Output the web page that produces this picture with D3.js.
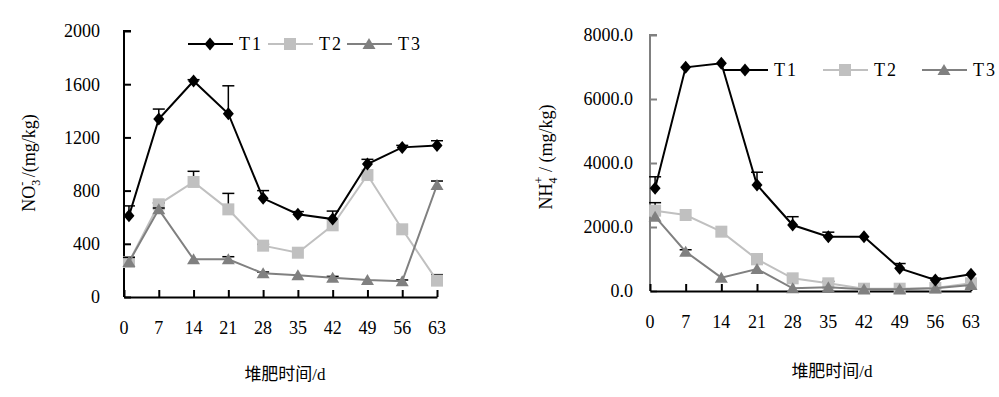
<!DOCTYPE html>
<html>
<head>
<meta charset="utf-8">
<script src="https://cdn.jsdelivr.net/npm/d3@7"></script>
<style>
  body { margin: 0; background: #fff; }
</style>
</head>
<body>
<div id="chart"></div>
<script>
// sampling days (first sample on day 1)
const days = [1, 7, 14, 21, 28, 35, 42, 49, 56, 63];
const dayTicks = [0, 7, 14, 21, 28, 35, 42, 49, 56, 63];
const seriesNames = ['T1', 'T2', 'T3'];

// NO3- (mg/kg)
const no3T1 = [610, 1338, 1624, 1378, 742, 622, 586, 1000, 1125, 1140];
const no3T2 = [263, 697, 865, 659, 386, 333, 539, 917, 509, 123];
const no3T3 = [263, 659, 283, 283, 178, 163, 145, 128, 118, 842];
const no3ErrT1 = [75, 75, 10, 210, 58, 20, 60, 35, 15, 35];
const no3ErrT2 = [0, 10, 80, 120, 10, 0, 0, 0, 0, 45];
const no3ErrT3 = [35, 10, 0, 20, 10, 0, 10, 0, 10, 30];
const no3Ticks = [0, 400, 800, 1200, 1600, 2000];

// NH4+ (mg/kg)
const nh4T1 = [3209, 6990, 7115, 3312, 2062, 1698, 1698, 708, 344, 521];
const nh4T2 = [2510, 2375, 1854, 990, 396, 240, 72, 72, 94, 240];
const nh4T3 = [2323, 1229, 417, 688, 83, 115, 52, 52, 83, 187];
const nh4ErrT1 = [360, 0, 0, 400, 260, 140, 0, 150, 60, 0];
const nh4ErrT2 = [250, 0, 0, 150, 0, 60, 0, 0, 0, 0];
const nh4ErrT3 = [0, 60, 0, 0, 0, 0, 0, 0, 0, 0];
const nh4Ticks = [0, 2000, 4000, 6000, 8000];

const colors = { T1: '#000000', T2: '#c0c0c0', T3: '#808080' };
const serif = '"Liberation Serif", "DejaVu Serif", serif';

const svg = d3.select('#chart').append('svg')
  .attr('width', 999)
  .attr('height', 397)
  .attr('font-family', serif);

function markerPath(name) {
  if (name === 'T1') return 'M0,-6.5L5.5,0L0,6.5L-5.5,0Z';
  if (name === 'T2') return 'M-6,-6L6,-6L6,6L-6,6Z';
  return 'M0,-6L6.5,5L-6.5,5Z';
}

function drawPanel(cfg) {
  const x = d3.scaleLinear().domain([0, 63]).range([cfg.x0, cfg.x1]);
  const y = d3.scaleLinear().domain([0, cfg.yMax]).range([cfg.y0, cfg.y1]);
  const g = svg.append('g');

  // y axis
  const yAxis = g.append('g')
    .attr('transform', 'translate(' + cfg.x0 + ',0)')
    .call(d3.axisRight(y).tickValues(cfg.yTicks).tickSize(7).tickFormat(''));
  yAxis.selectAll('path, line').attr('stroke', cfg.yAxisColor).attr('stroke-width', 2);
  yAxis.select('.domain').attr('d', 'M0,' + cfg.y0 + 'V' + cfg.y1 + 'H7');

  g.selectAll('.ylab')
    .data(cfg.yTicks)
    .enter().append('text')
    .attr('x', cfg.x0 - cfg.labelGap)
    .attr('y', d => y(d))
    .attr('dy', '0.35em')
    .attr('text-anchor', 'end')
    .attr('font-family', serif)
    .attr('font-size', 18)
    .text(d => cfg.fmt(d));

  // x axis
  const xAxis = g.append('g')
    .attr('transform', 'translate(0,' + cfg.y0 + ')')
    .call(d3.axisTop(x).tickValues(dayTicks).tickSize(7).tickSizeOuter(0).tickFormat(''));
  xAxis.selectAll('path, line').attr('stroke', '#000').attr('stroke-width', 2);

  g.selectAll('.xlab')
    .data(dayTicks)
    .enter().append('text')
    .attr('x', d => x(d))
    .attr('y', cfg.xLabelY)
    .attr('text-anchor', 'middle')
    .attr('font-family', serif)
    .attr('font-size', 18)
    .text(d => d);

  // series (drawn T2, T3, T1 so black sits on top)
  const order = [1, 2, 0];
  order.forEach(i => {
    const name = seriesNames[i];
    const vals = cfg.series[i];
    const errs = cfg.errors[i];
    const pts = days.map((d, j) => ({ d: d, v: vals[j], e: errs[j] }));

    // error bars (upper only)
    const eb = g.append('g').attr('stroke', '#000').attr('stroke-width', 1.5);
    pts.filter(p => p.e > 0).forEach(p => {
      eb.append('line')
        .attr('x1', x(p.d)).attr('x2', x(p.d))
        .attr('y1', y(p.v)).attr('y2', y(p.v + p.e));
      eb.append('line')
        .attr('x1', x(p.d) - 6).attr('x2', x(p.d) + 6)
        .attr('y1', y(p.v + p.e)).attr('y2', y(p.v + p.e));
    });

    g.append('path')
      .datum(pts)
      .attr('fill', 'none')
      .attr('stroke', colors[name])
      .attr('stroke-width', 2)
      .attr('d', d3.line().x(p => x(p.d)).y(p => y(p.v)));

    g.selectAll('.m' + name)
      .data(pts)
      .enter().append('path')
      .attr('transform', p => 'translate(' + x(p.d) + ',' + y(p.v) + ')')
      .attr('d', markerPath(name))
      .attr('fill', colors[name]);
  });

  // legend
  const lg = g.append('g').attr('transform', 'translate(0,' + cfg.legendY + ')');
  seriesNames.forEach((name, i) => {
    const lx = cfg.legendX[i];
    lg.append('line')
      .attr('x1', lx).attr('x2', lx + 45)
      .attr('y1', 0).attr('y2', 0)
      .attr('stroke', colors[name]).attr('stroke-width', 2);
    lg.append('path')
      .attr('transform', 'translate(' + (lx + 22) + ',0)')
      .attr('d', markerPath(name))
      .attr('fill', colors[name]);
    lg.append('text')
      .attr('x', lx + 51)
      .attr('y', 0)
      .attr('dy', '0.35em')
      .attr('font-family', serif)
      .attr('font-size', 18)
      .attr('letter-spacing', 2)
      .text(name);
  });

  // axis titles
  g.append('text')
    .attr('x', cfg.xTitleX)
    .attr('y', cfg.xTitleY)
    .attr('text-anchor', 'middle')
    .attr('font-family', '"Liberation Serif", "Noto Sans CJK SC", serif')
    .attr('font-size', 17)
    .text('堆肥时间/d');

  const yt = g.append('text')
    .attr('transform', 'translate(' + cfg.yTitleX + ',' + cfg.yTitleY + ') rotate(-90)')
    .attr('text-anchor', 'middle')
    .attr('font-family', serif)
    .attr('font-size', 18);
  yt.append('tspan').text(cfg.ion);
  yt.append('tspan').attr('dy', 5).attr('font-size', 12).text(cfg.sub);
  yt.append('tspan').attr('dy', -14).attr('dx', -6).attr('font-size', 12).text(cfg.sup);
  yt.append('tspan').attr('dy', 9).text(cfg.unit);
}

drawPanel({
  x0: 124, x1: 437, y0: 297, y1: 31, yMax: 2000,
  yTicks: no3Ticks, fmt: d => d, labelGap: 24, yAxisColor: '#000',
  xLabelY: 334,
  series: [no3T1, no3T2, no3T3],
  errors: [no3ErrT1, no3ErrT2, no3ErrT3],
  legendY: 44, legendX: [188, 268, 347],
  xTitleX: 285, xTitleY: 380,
  yTitleX: 35, yTitleY: 163,
  ion: 'NO', sub: '3', sup: '-', unit: '  /(mg/kg)'
});

drawPanel({
  x0: 650, x1: 971, y0: 291, y1: 35, yMax: 8000,
  yTicks: nh4Ticks, fmt: d3.format('.1f'), labelGap: 17, yAxisColor: '#808080',
  xLabelY: 328,
  series: [nh4T1, nh4T2, nh4T3],
  errors: [nh4ErrT1, nh4ErrT2, nh4ErrT3],
  legendY: 70, legendX: [723, 823, 922],
  xTitleX: 832, xTitleY: 377,
  yTitleX: 552, yTitleY: 157,
  ion: 'NH', sub: '4', sup: '+', unit: ' / (mg/kg)'
});
</script>
</body>
</html>
